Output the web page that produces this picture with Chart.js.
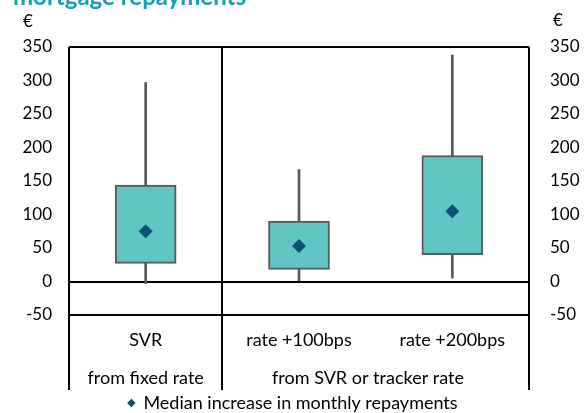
<!DOCTYPE html>
<html>
<head>
<meta charset="utf-8">
<script src="https://cdn.jsdelivr.net/npm/chart.js@4.4.1/dist/chart.umd.min.js"></script>
<style>
  html, body { margin: 0; padding: 0; background: #fff; }
  #wrap { width: 586px; height: 413px; position: relative; }
</style>
</head>
<body>
<div id="wrap"><canvas id="c" width="586" height="413"></canvas></div>
<script>
// ---- data ----
const titleText = 'mortgage repayments';
const unitLabel = '€';
const categories = ['SVR', 'rate +100bps', 'rate +200bps'];
const groupLabels = ['from fixed rate', 'from SVR or tracker rate'];
const groupCenters = [0, 1.45];          // position of group label on category index scale
const whiskerMin = [-3, 1, 5];
const whiskerMax = [297, 167, 338];
const boxLow = [27, 18, 40];
const boxHigh = [144, 90, 188];
const medianValues = [75, 53, 105];
const yTicks = [350, 300, 250, 200, 150, 100, 50, 0, -50];
const legendLabel = 'Median increase in monthly repayments';

const FONT = 'Lato';
const boxFill = '#60C5C2';
const boxLine = '#5A5A5A';
const medianColor = '#0B5272';
const titleColor = '#1A9CB3';

const whiskerData = categories.map((c, i) => [whiskerMin[i], whiskerMax[i]]);
const boxData = categories.map((c, i) => [boxLow[i], boxHigh[i]]);

const textPlugin = {
  id: 'extraText',
  afterDraw(chart) {
    const ctx = chart.ctx;
    const ca = chart.chartArea;
    ctx.save();
    ctx.fillStyle = titleColor;
    ctx.font = 'bold 24px ' + FONT;
    ctx.textAlign = 'left';
    ctx.textBaseline = 'alphabetic';
    ctx.fillText(titleText, 13, 5);
    ctx.fillStyle = '#000';
    ctx.font = '17px ' + FONT;
    ctx.textAlign = 'center';
    ctx.textBaseline = 'middle';
    ctx.fillText(unitLabel, chart.scales.y.right - 41, ca.top - 25);
    ctx.fillText(unitLabel, chart.scales.y2.left + 29, ca.top - 26);
    ctx.restore();
  }
};

new Chart(document.getElementById('c'), {
  type: 'bar',
  data: {
    labels: categories,
    datasets: [
      {
        type: 'line',
        label: legendLabel,
        data: medianValues,
        showLine: false,
        pointStyle: 'rectRot',
        pointRadius: 7,
        pointBorderWidth: 0,
        backgroundColor: medianColor,
        borderColor: medianColor,
        order: 0
      },
      {
        label: 'box',
        data: boxData,
        backgroundColor: boxFill,
        borderColor: boxLine,
        borderWidth: 2,
        borderSkipped: false,
        barThickness: 61,
        grouped: false,
        order: 1
      },
      {
        label: 'whisker',
        data: whiskerData,
        backgroundColor: boxLine,
        borderWidth: 0,
        barThickness: 2,
        grouped: false,
        order: 2
      }
    ]
  },
  options: {
    responsive: false,
    animation: false,
    devicePixelRatio: 1,
    layout: { padding: { top: 47, left: 0, right: 0, bottom: -9 } },
    plugins: {
      tooltip: { enabled: false },
      title: { display: false },
      legend: {
        display: true,
        position: 'bottom',
        labels: {
          filter: (item) => item.datasetIndex === 0,
          usePointStyle: true,
          boxWidth: 6,
          boxHeight: 6,
          padding: 0,
          color: '#000',
          font: { family: FONT, size: 18 }
        }
      }
    },
    scales: {
      x: {
        type: 'category',
        position: 'bottom',
        offset: true,
        grid: {
          offset: true,
          drawOnChartArea: true,
          drawTicks: true,
          tickLength: 75,
          lineWidth: 2,
          color: (ctx) => (ctx.index === 2 ? 'rgba(0,0,0,0)' : '#000'),
          tickColor: (ctx) => (ctx.index === 2 ? 'rgba(0,0,0,0)' : '#000')
        },
        border: { display: true, color: '#000', width: 2 },
        ticks: {
          padding: -61,
          maxRotation: 0,
          autoSkip: false,
          color: '#000',
          font: { family: FONT, size: 18 }
        },
        afterFit: (s) => { s.height = 44; }
      },
      x2: {
        type: 'linear',
        position: 'bottom',
        offset: false,
        min: -0.5,
        max: categories.length - 0.5,
        grid: { display: false, drawTicks: false, offset: false },
        border: { display: false },
        afterBuildTicks: (s) => { s.ticks = groupCenters.map(v => ({ value: v })); },
        ticks: {
          padding: 8,
          maxRotation: 0,
          autoSkip: false,
          color: '#000',
          font: { family: FONT, size: 18 },
          callback: (v) => { const i = groupCenters.indexOf(v); return i >= 0 ? groupLabels[i] : ''; }
        },
        afterFit: (s) => { s.height = 35; }
      },
      y: {
        type: 'linear',
        position: 'left',
        min: -50,
        max: 350,
        afterBuildTicks: (s) => { s.ticks = yTicks.map(v => ({ value: v })); },
        grid: {
          drawTicks: false,
          lineWidth: 2,
          color: (ctx) => (ctx.tick && (ctx.tick.value === 0 || ctx.tick.value === 350) ? '#000' : 'rgba(0,0,0,0)')
        },
        border: { display: false },
        ticks: {
          padding: 17,
          color: '#000',
          font: { family: FONT, size: 17 }
        },
        afterFit: (s) => { s.width = 69; }
      },
      y2: {
        type: 'linear',
        position: 'right',
        min: -50,
        max: 350,
        afterBuildTicks: (s) => { s.ticks = yTicks.map(v => ({ value: v })); },
        grid: { display: false, drawTicks: false },
        border: { display: false },
        ticks: {
          padding: 21,
          color: '#000',
          font: { family: FONT, size: 17 }
        },
        afterFit: (s) => { s.width = 57; }
      }
    }
  },
  plugins: [textPlugin]
});
</script>
</body>
</html>
